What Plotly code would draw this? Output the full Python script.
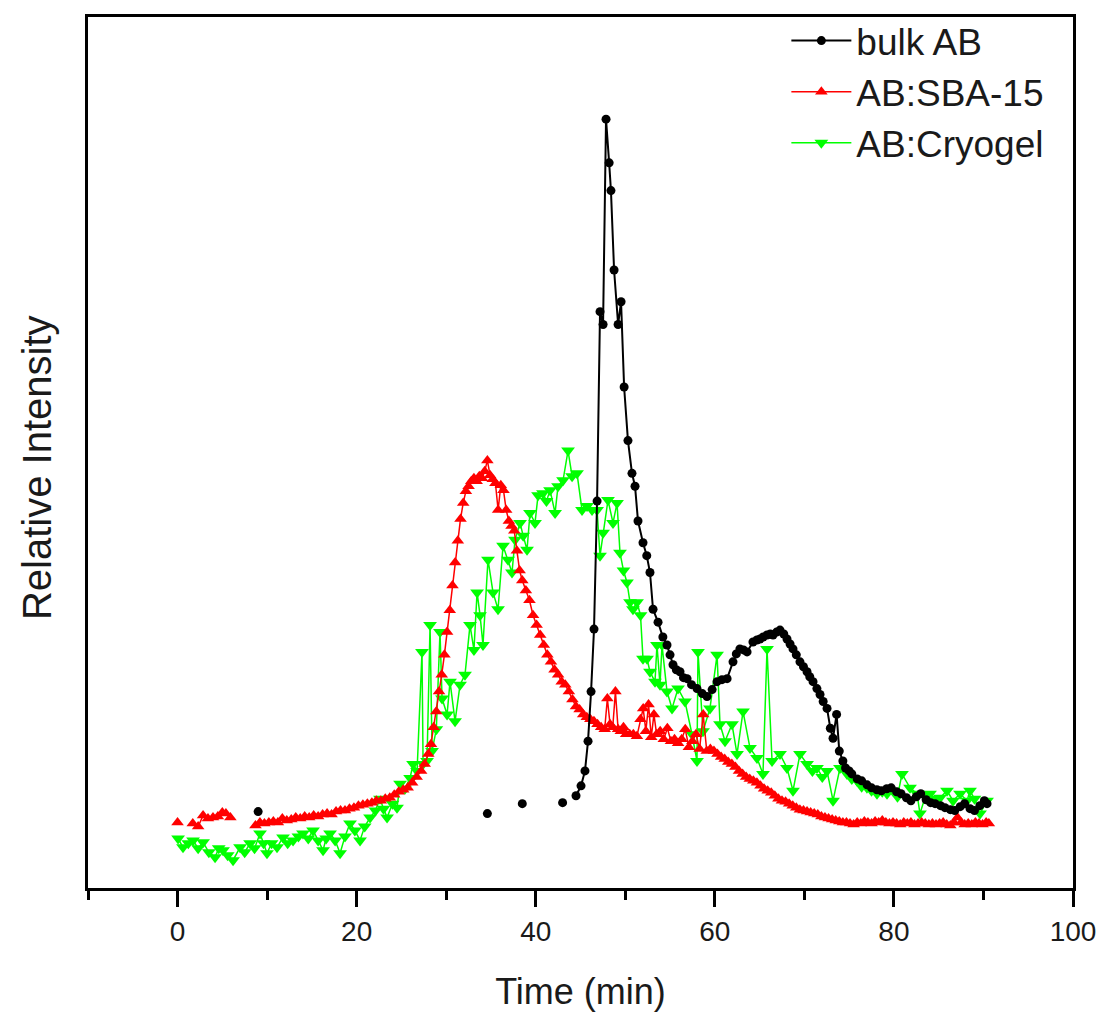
import plotly.graph_objects as go

# ---------------- data (time in min, relative intensity in a.u.) ----------------
bulk_t = [9.0, None, 34.6, None, 38.5, None, 43.0, None,
          44.5, 45.06, 45.5, 45.84, 46.18, 46.51, 46.85, 47.18, 47.52, 47.85, 48.2, 48.4,
          48.75, 49.2, 49.53, 49.87, 50.3, 50.75, 51.09, 51.42, 51.98, 52.4, 52.76, 53.1,
          53.66, 54.2, 54.66, 55.0, 55.33, 55.7, 56.11, 56.5, 56.9, 57.4, 58.01, 58.6,
          59.13, 59.7, 60.25, 60.8, 61.37, 62.03, 62.4, 62.8, 63.2, 63.6, 64.26, 64.7,
          65.04, 65.4, 65.83, 66.2, 66.5, 66.9, 67.28, 67.7, 68.06, 68.4, 68.73, 69.1,
          69.51, 69.9, 70.3, 70.6, 70.97, 71.4, 71.75, 72.1, 72.53, 72.9, 73.2, 73.6,
          73.9, 74.3, 74.6, 75.0, 75.3, 75.9, 76.4, 77.0, 77.5, 78.1, 78.6, 79.2,
          79.7, 80.3, 80.8, 81.4, 81.9, 82.5, 83.0, 83.6, 84.1, 84.6, 85.2, 85.7,
          86.3, 86.8, 87.4, 87.9, 88.5, 89.0, 89.6, 90.1, 90.4]
bulk_y = [0.77, None, 0.75, None, 0.85, None, 0.86, None,
          0.93, 1.03, 1.18, 1.48, 1.98, 2.61, 3.90, 5.81, 5.68, 7.75, 7.31, 7.03,
          6.23, 5.68, 5.91, 5.05, 4.51, 4.18, 4.05, 3.70, 3.48, 3.35, 3.18, 2.81,
          2.68, 2.53, 2.45, 2.35, 2.25, 2.20, 2.18, 2.12, 2.11, 2.05, 2.01, 1.96,
          1.93, 2.00, 2.08, 2.10, 2.11, 2.28, 2.36, 2.41, 2.40, 2.38, 2.48, 2.50,
          2.51, 2.53, 2.55, 2.56, 2.55, 2.58, 2.60, 2.56, 2.51, 2.46, 2.41, 2.35,
          2.28, 2.23, 2.18, 2.13, 2.08, 2.01, 1.95, 1.88, 1.81, 1.61, 1.51, 1.75,
          1.38, 1.28, 1.21, 1.18, 1.15, 1.10, 1.08, 1.04, 1.01, 0.99, 0.98, 1.00,
          1.01, 0.97, 0.95, 0.91, 0.88, 0.92, 0.95, 0.89, 0.86, 0.85, 0.83, 0.81,
          0.79, 0.78, 0.82, 0.85, 0.80, 0.78, 0.83, 0.88, 0.85]

sba_t = [0.0, None,
         1.7, 2.3, 2.85, 3.4, 3.96, 4.5, 5.0, 5.4, 5.9, None,
         8.7, 9.2, 9.7, 10.2, 10.7, 11.2, 11.7, 12.2, 12.7, 13.2, 13.7, 14.2, 14.7, 15.2,
         15.7, 16.2, 16.7, 17.2, 17.7, 18.2, 18.7, 19.2, 19.7, 20.2, 20.7, 21.2, 21.7,
         22.2, 22.7, 23.2, 23.7, 24.2, 24.7, 25.2, 25.7, 26.2, 26.7, 27.2, 27.6, 28.0,
         28.3, 28.6, 28.9, 29.2, 29.5, 29.8, 30.1, 30.4, 30.7, 31.0, 31.3, 31.6, 31.9,
         32.2, 32.5, 32.8, 33.1, 33.4, 33.7, 34.0, 34.3, 34.6, 34.9, 35.2, 35.5, 35.8,
         36.1, 36.4, 36.7, 37.0, 37.3, 37.6, 37.9, 38.2, 38.5, 38.9, 39.3, 39.7, 40.1,
         40.5, 40.9, 41.3, 41.7, 42.1, 42.5, 42.9, 43.3, 43.7, 44.1, 44.5, 44.9, 45.3,
         45.7, 46.1, 46.5, 46.9, 47.3, 47.7, 48.0, 48.3, 48.6, 48.9, 49.2, 49.5, 49.8,
         50.1, 50.5, 50.9, 51.3, 51.7, 52.0, 52.3, 52.6, 52.9, 53.2, 53.5, 53.9, 54.3,
         54.7, 55.1, 55.5, 55.9, 56.3, 56.7, 57.1, 57.5, 57.9, 58.3, 58.7, 59.1, 59.5,
         59.9, 60.3, 60.7, 61.1, 61.5, 61.9, 62.3, 62.7, 63.1, 63.5, 63.9, 64.3, 64.7,
         65.1, 65.5, 65.9, 66.3, 66.7, 67.1, 67.5, 67.9, 68.3, 68.7, 69.1, 69.5, 69.9,
         70.3, 70.7, 71.1, 71.5, 71.9, 72.3, 72.7, 73.1, 73.5, 73.9, 74.3, 74.7, 75.1,
         75.5, 75.9, 76.3, 76.7, 77.1, 77.5, 77.9, 78.3, 78.7, 79.1, 79.5, 79.9, 80.3,
         80.7, 81.1, 81.5, 81.9, 82.3, 82.7, 83.1, 83.5, 83.9, 84.3, 84.7, 85.1, 85.5,
         85.9, 86.3, 86.7, 87.1, 87.5, 87.9, 88.3, 88.7, 89.1, 89.5, 89.9, 90.3, 90.6]
sba_y = [0.66, None,
         0.65, 0.62, 0.73, 0.70, 0.71, 0.72, 0.76, 0.75, 0.71, None,
         0.63, 0.66, 0.65, 0.66, 0.67, 0.66, 0.70, 0.68, 0.69, 0.71, 0.70, 0.72, 0.71, 0.73,
         0.72, 0.74, 0.75, 0.74, 0.77, 0.78, 0.78, 0.80, 0.81, 0.83, 0.84, 0.85, 0.86,
         0.88, 0.88, 0.90, 0.91, 0.94, 0.97, 0.99, 1.01, 1.06, 1.12, 1.18, 1.25, 1.35,
         1.45, 1.62, 1.78, 1.98, 2.15, 2.35, 2.58, 2.80, 3.05, 3.28, 3.50, 3.72, 3.88,
         4.00, 4.05, 4.10, 4.13, 4.10, 4.15, 4.13, 4.20, 4.31, 4.16, 4.12, 4.08, 3.81,
         4.06, 4.01, 3.81, 3.70, 3.65, 3.60, 3.40, 3.20, 3.10, 3.00, 2.90, 2.75, 2.65,
         2.55, 2.45, 2.35, 2.28, 2.20, 2.15, 2.08, 2.05, 1.98, 1.90, 1.83, 1.80, 1.75,
         1.72, 1.70, 1.68, 1.65, 1.62, 1.60, 1.91, 1.65, 1.62, 1.98, 1.60, 1.58, 1.62,
         1.55, 1.55, 1.55, 1.53, 1.70, 1.81, 1.58, 1.85, 1.52, 1.75, 1.55, 1.58, 1.50,
         1.61, 1.48, 1.50, 1.46, 1.50, 1.60, 1.42, 1.48, 1.55, 1.40, 1.75, 1.38, 1.40,
         1.38, 1.35, 1.32, 1.30, 1.27, 1.25, 1.22, 1.18, 1.15, 1.12, 1.10, 1.08, 1.06,
         1.03, 1.00, 0.98, 0.96, 0.93, 0.90, 0.88, 0.87, 0.85, 0.83, 0.81, 0.79, 0.78,
         0.77, 0.76, 0.75, 0.74, 0.72, 0.71, 0.70, 0.69, 0.68, 0.67, 0.66, 0.66, 0.65,
         0.64, 0.66, 0.65, 0.67, 0.66, 0.65, 0.67, 0.66, 0.68, 0.66, 0.65, 0.66, 0.65,
         0.64, 0.66, 0.65, 0.66, 0.64, 0.65, 0.66, 0.65, 0.64, 0.65, 0.64, 0.65, 0.66,
         0.64, 0.63, 0.66, 0.71, 0.66, 0.64, 0.65, 0.64, 0.66, 0.65, 0.64, 0.66, 0.65]

cryo_t = [0.06, 0.61, 1.2, 1.73, 2.3, 2.85, 3.5, 4.19, 4.6, 5.08, 5.6, 6.2, 6.98, 7.5,
          8.1, 8.6, 9.21, 9.6, 9.99, 10.5, 11.11, 11.78, 12.3, 12.9, 13.5, 14.01, 14.6,
          15.13, 15.7, 16.25, 16.6, 17.03, 17.6, 18.15, 18.7, 19.26, 19.8, 20.38, 20.9,
          21.5, 22.1, 22.61, 23.0, 23.4, 24.0, 24.51, 24.85, 25.4, 25.97, 26.3, 26.75,
          27.3, 27.42, 27.86, 28.2, 28.42, 28.9, 29.31, 29.54, 30.1, 30.43, 30.99, 31.55,
          32.1, 32.66, 33.1, 33.45, 33.78, 34.11, 34.67, 35.23, 35.79, 36.35, 36.91,
          37.35, 37.69, 38.25, 38.6, 39.03, 39.36, 39.92, 40.26, 40.81, 41.2, 41.6,
          42.16, 42.49, 43.05, 43.61, 44.06, 44.61, 45.17, 45.73, 46.29, 46.85, 47.18,
          47.52, 48.07, 48.63, 49.08, 49.41, 49.8, 50.19, 50.53, 50.86, 51.31, 51.7,
          51.98, 52.43, 52.76, 53.32, 53.54, 53.88, 54.1, 54.66, 55.22, 55.89, 56.67,
          57.45, 58.01, 58.12, 58.68, 59.46, 60.25, 60.58, 61.14, 61.92, 62.48, 63.15,
          63.93, 64.71, 65.38, 65.83, 66.39, 67.28, 68.06, 68.73, 69.51, 70.3, 70.9,
          71.41, 72.0, 72.53, 73.2, 73.98, 74.76, 75.3, 75.88, 76.4, 76.99, 77.5, 78.11,
          78.7, 79.23, 79.9, 80.4, 80.9, 81.8, 82.58, 82.91, 83.5, 84.03, 84.6, 85.15,
          85.93, 86.6, 87.39, 88.17, 88.5, 89.0, 89.62, 90.4]
cryo_y = [0.50, 0.41, 0.45, 0.48, 0.40, 0.46, 0.36, 0.31, 0.40, 0.38, 0.33, 0.28, 0.41, 0.36,
          0.45, 0.40, 0.55, 0.45, 0.35, 0.45, 0.41, 0.51, 0.45, 0.48, 0.52, 0.55, 0.50,
          0.58, 0.48, 0.38, 0.50, 0.55, 0.48, 0.35, 0.52, 0.65, 0.58, 0.48, 0.62,
          0.71, 0.78, 0.90, 0.80, 0.71, 0.85, 0.81, 1.05, 1.00, 1.11, 1.25, 1.18,
          2.38, 1.25, 1.28, 2.65, 1.38, 1.60, 2.58, 1.91, 1.75, 2.08, 1.68, 2.05,
          2.15, 2.65, 2.40, 2.98, 2.75, 2.45, 3.31, 2.98, 2.81, 3.45, 3.31,
          3.18, 3.51, 3.68, 3.55, 3.41, 3.78, 3.68, 3.96, 3.98, 3.90, 4.01,
          3.78, 4.05, 4.11, 4.41, 4.15, 4.18, 3.81, 3.85, 3.81, 3.81, 3.35,
          3.58, 3.91, 3.68, 3.88, 3.38, 3.20, 3.08, 2.88, 2.81, 2.88, 2.75,
          2.31, 2.31, 2.18, 2.08, 2.45, 2.05, 2.45, 1.98, 1.81, 2.01, 1.88,
          1.55, 1.28, 2.38, 1.58, 1.81, 2.35, 1.65, 1.48, 1.65, 1.35, 1.78,
          1.41, 1.31, 1.15, 2.41, 1.28, 1.35, 1.21, 0.98, 1.35, 1.25, 1.18,
          1.21, 1.12, 1.18, 0.88, 1.21, 1.15, 1.10, 1.08, 1.02, 1.01, 0.98, 0.95,
          0.97, 0.95, 0.98, 0.92, 1.15, 1.01, 0.95, 0.75, 0.92, 0.95, 0.90, 0.91,
          0.98, 0.88, 0.95, 0.88, 0.98, 0.90, 0.75, 0.88]

x_ticks = [0, 20, 40, 60, 80, 100]

# ---------------- figure ----------------
FONT = "Liberation Sans, Arial, sans-serif"
TXT = "#1a1a1a"
fig = go.Figure()

fig.add_trace(go.Scatter(
    x=cryo_t, y=cryo_y, name="AB:Cryogel", mode="lines+markers",
    line=dict(color="#00ff00", width=1.5),
    marker=dict(symbol="triangle-down", size=12, color="#00ff00"),
    legendrank=3))
fig.add_trace(go.Scatter(
    x=sba_t, y=sba_y, name="AB:SBA-15", mode="lines+markers",
    line=dict(color="#ff0000", width=1.5),
    marker=dict(symbol="triangle-up", size=11, color="#ff0000"),
    legendrank=2))
fig.add_trace(go.Scatter(
    x=bulk_t, y=bulk_y, name="bulk AB", mode="lines+markers",
    line=dict(color="#000000", width=2),
    marker=dict(symbol="circle", size=9, color="#000000"),
    legendrank=1))

fig.update_layout(
    width=1113, height=1013,
    margin=dict(l=80, r=48, t=2, b=133),
    paper_bgcolor="white", plot_bgcolor="white",
    font=dict(family=FONT, color=TXT),
    showlegend=True,
    legend=dict(x=0.709, y=1.008, xanchor="left", yanchor="top",
                bgcolor="rgba(0,0,0,0)", font=dict(size=37, family=FONT, color=TXT),
                itemwidth=60, tracegroupgap=0),
    xaxis=dict(
        range=[-10, 100], tickmode="array", tickvals=x_ticks,
        ticks="outside", ticklen=16, tickwidth=3, tickcolor="black",
        showline=True, linewidth=3, linecolor="black", mirror=True,
        showgrid=False, zeroline=False,
        tickfont=dict(size=28, family=FONT, color=TXT),
        minor=dict(dtick=10, tick0=0, ticks="outside", ticklen=9, tickwidth=3,
                   tickcolor="black", showgrid=False),
        title=dict(text="Time (min)", font=dict(size=36, family=FONT, color=TXT),
                   standoff=34),
    ),
    yaxis=dict(
        range=[0, 8.78], showticklabels=False, ticks="",
        showline=True, linewidth=3, linecolor="black", mirror=True,
        showgrid=False, zeroline=False,
    ),
    annotations=[dict(
        text="Relative Intensity", textangle=-90, showarrow=False,
        xref="paper", yref="paper", x=-0.051, y=0.483,
        xanchor="center", yanchor="middle",
        font=dict(size=40, family=FONT, color=TXT))],
)

fig.write_html("out.html")
